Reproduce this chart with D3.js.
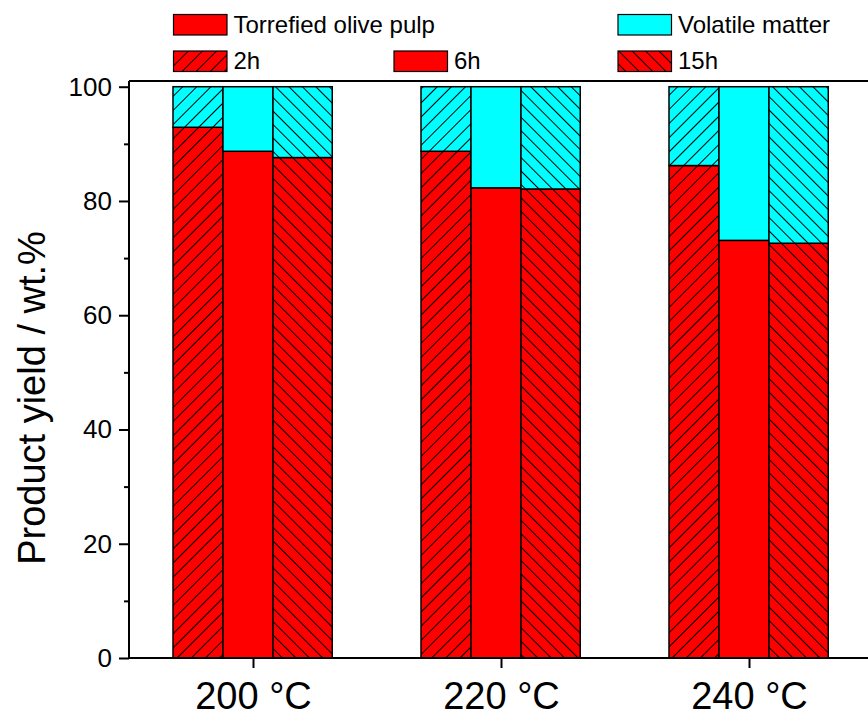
<!DOCTYPE html>
<html>
<head>
<meta charset="utf-8">
<script src="https://cdn.jsdelivr.net/npm/d3@7"></script>
<style>
  body { margin: 0; background: #fff; }
  svg { display: block; font-family: "Liberation Sans", Arial, sans-serif; }
</style>
</head>
<body>
<svg width="868" height="719"></svg>
<script>
// data
var temps = ["200 °C", "220 °C", "240 °C"];
var times = ["2h", "6h", "15h"];
var torrefied2h = [92.9, 88.7, 86.2];
var torrefied6h = [88.7, 82.3, 73.1];
var torrefied15h = [87.6, 82.1, 72.6];
var volatile2h = [7.1, 11.3, 13.8];
var volatile6h = [11.3, 17.7, 26.9];
var volatile15h = [12.4, 17.9, 27.4];
var yTicks = [0, 20, 40, 60, 80, 100];
var yMinor = [10, 30, 50, 70, 90];

var torrefied = [torrefied2h, torrefied6h, torrefied15h];
var volatile = [volatile2h, volatile6h, volatile15h];

var svg = d3.select("svg");

// x in category-index units, right part of frame falls outside the picture
var x = d3.scaleLinear().domain([-0.5, 2.5]).range([129, 873]);
var y = d3.scaleLinear().domain([0, 101]).range([658, 81]);

// slot of each time inside a group (index units)
var slots = [[-0.3226, -0.121], [-0.121, 0.0806], [0.0806, 0.3196]];
var hatch = ["h2", null, "h15"];

var defs = svg.append("defs");
function makePattern(id, bg, angle, step) {
    var p = defs.append("pattern")
        .attr("id", id)
        .attr("patternUnits", "userSpaceOnUse")
        .attr("width", step).attr("height", step)
        .attr("patternTransform", "rotate(" + angle + ")");
    p.append("rect").attr("width", step).attr("height", step).attr("fill", bg);
    p.append("line").attr("x1", 0.5).attr("y1", 0).attr("x2", 0.5).attr("y2", step)
        .attr("stroke", "#000").attr("stroke-width", 1);
}
makePattern("h2-red", "#ff0000", 45, 10);
makePattern("h2-cyan", "#00ffff", 45, 10);
makePattern("h15-red", "#ff0000", -45, 9.5);
makePattern("h15-cyan", "#00ffff", -45, 9.5);

function fillFor(t, col) {
    var base = col == "red" ? "#ff0000" : "#00ffff";
    return hatch[t] ? "url(#" + hatch[t] + "-" + col + ")" : base;
}

// bars
var rows = [];
temps.forEach(function(c, i) {
    times.forEach(function(t, j) {
        rows.push({ i: i, j: j, tor: torrefied[j][i], vol: volatile[j][i] });
    });
});

var bars = svg.append("g").selectAll("g").data(rows).enter().append("g");
bars.append("rect")
    .attr("x", function(d) { return x(d.i + slots[d.j][0]); })
    .attr("width", function(d) { return x(d.i + slots[d.j][1]) - x(d.i + slots[d.j][0]); })
    .attr("y", function(d) { return y(d.tor); })
    .attr("height", function(d) { return y(0) - y(d.tor); })
    .attr("fill", function(d) { return fillFor(d.j, "red"); })
    .attr("stroke", "#000").attr("stroke-width", 1.5);
bars.append("rect")
    .attr("x", function(d) { return x(d.i + slots[d.j][0]); })
    .attr("width", function(d) { return x(d.i + slots[d.j][1]) - x(d.i + slots[d.j][0]); })
    .attr("y", function(d) { return y(d.tor + d.vol); })
    .attr("height", function(d) { return y(d.tor) - y(d.tor + d.vol); })
    .attr("fill", function(d) { return fillFor(d.j, "cyan"); })
    .attr("stroke", "#000").attr("stroke-width", 1.5);

// axes
var yAxis = svg.append("g")
    .attr("transform", "translate(" + x(-0.5) + ",0)")
    .call(d3.axisLeft(y).tickValues(yTicks).tickSize(10).tickPadding(7).tickFormat(d3.format("d")));
yAxis.selectAll("text").attr("font-size", 26).attr("fill", "#000")
    .attr("font-family", "'Liberation Sans', Arial, sans-serif");
svg.append("g")
    .attr("transform", "translate(" + x(-0.5) + ",0)")
    .call(d3.axisLeft(y).tickValues(yMinor).tickSize(5).tickFormat(""))
    .select(".domain").remove();

var xAxis = svg.append("g")
    .attr("transform", "translate(0," + y(0) + ")")
    .call(d3.axisBottom(x).tickValues([0, 1, 2]).tickSize(10).tickPadding(14)
        .tickFormat(function(d) { return temps[d]; }));
xAxis.selectAll("text").attr("font-size", 38).attr("fill", "#000")
    .attr("font-family", "'Liberation Sans', Arial, sans-serif");

svg.selectAll(".domain, .tick line").attr("stroke", "#000").attr("stroke-width", 2);
yAxis.select(".domain").attr("d", "M0," + y(0) + "V" + y(101));
xAxis.select(".domain").attr("d", "M" + x(-0.5) + ",0H" + x(2.5));

// top frame line
svg.append("line")
    .attr("x1", x(-0.5)).attr("x2", x(2.5))
    .attr("y1", y(101)).attr("y2", y(101))
    .attr("stroke", "#000").attr("stroke-width", 2);

// y title
svg.append("text")
    .attr("transform", "translate(45," + 398 + ") rotate(-90)")
    .attr("text-anchor", "middle")
    .attr("font-size", 38)
    .text("Product yield / wt.%");

// legend
var legendItems = [
    { label: "Torrefied olive pulp", fill: "#ff0000", x: 173.5, y: 14.5 },
    { label: "Volatile matter", fill: "#00ffff", x: 618, y: 14.5 },
    { label: times[0], fill: "url(#h2-red)", x: 173.5, y: 51 },
    { label: times[1], fill: "#ff0000", x: 394, y: 51 },
    { label: times[2], fill: "url(#h15-red)", x: 618, y: 51 }
];
var leg = svg.append("g").selectAll("g").data(legendItems).enter().append("g")
    .attr("transform", function(d) { return "translate(" + d.x + "," + d.y + ")"; });
leg.append("rect")
    .attr("width", 53.5).attr("height", 20.5)
    .attr("fill", function(d) { return d.fill; })
    .attr("stroke", "#000").attr("stroke-width", 1.2);
leg.append("text")
    .attr("x", 60).attr("y", 18)
    .attr("font-size", 24)
    .text(function(d) { return d.label; });
</script>
</body>
</html>
